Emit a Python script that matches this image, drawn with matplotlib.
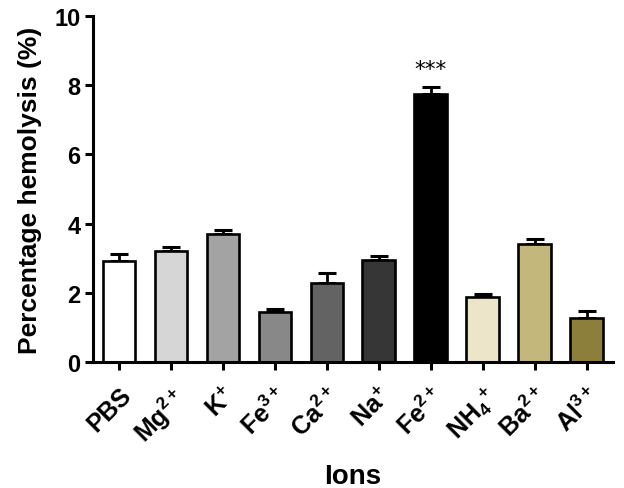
import matplotlib
matplotlib.use("Agg")
import matplotlib.pyplot as plt
import numpy as np

plt.rcParams['font.family'] = ['Liberation Sans', 'DejaVu Sans']
plt.rcParams['mathtext.fontset'] = 'custom'
plt.rcParams['mathtext.rm'] = 'Liberation Sans:bold'
plt.rcParams['mathtext.it'] = 'Liberation Sans:bold'
plt.rcParams['mathtext.bf'] = 'Liberation Sans:bold'
plt.rcParams['mathtext.default'] = 'rm'

ions = ['PBS', r'Mg$^{2+}$', r'K$^{+}$', r'Fe$^{3+}$', r'Ca$^{2+}$', r'Na$^{+}$',
        r'Fe$^{2+}$', r'NH$_{4}$$^{+}$', r'Ba$^{2+}$', r'Al$^{3+}$']
means = [2.93, 3.22, 3.69, 1.43, 2.29, 2.94, 7.74, 1.88, 3.40, 1.28]
errors = [0.20, 0.10, 0.12, 0.10, 0.29, 0.13, 0.21, 0.09, 0.15, 0.19]
colors = ['#ffffff', '#d6d6d6', '#a3a3a3', '#888888', '#636363', '#363636',
          '#000000', '#ece5c9', '#c3b87c', '#8c7e3b']
signif = ['', '', '', '', '', '', '***', '', '', '']

fig = plt.figure(figsize=(6.24, 4.89), dpi=100)
ax = fig.add_axes([0.149, 0.258, 0.833, 0.707])

x = np.arange(len(ions))
ax.bar(x, means, width=0.63, color=colors, edgecolor='black', linewidth=1.9, zorder=2)
ax.errorbar(x, means, yerr=[np.zeros(len(means)), errors], fmt='none', ecolor='black',
            elinewidth=2.0, capsize=6.5, capthick=2.2, zorder=1)

for xi, m, e, s in zip(x, means, errors, signif):
    if s:
        ax.text(xi, m + e + 0.22, s, ha='center', va='bottom', fontsize=15.5,
                family='DejaVu Sans')

ax.set_xlim(-0.5, 9.5)
ax.set_ylim(0, 10)
ax.set_yticks([0, 2, 4, 6, 8, 10])
ax.set_xticks(x)
ax.set_xticklabels(ions, rotation=45, ha='right', rotation_mode='anchor',
                   fontsize=18, fontweight='bold')
for lab in ax.get_yticklabels():
    lab.set_fontsize(17)
    lab.set_fontweight('bold')

for sp in ['top', 'right']:
    ax.spines[sp].set_visible(False)
for sp in ['left', 'bottom']:
    ax.spines[sp].set_linewidth(2.2)
ax.tick_params(axis='both', which='major', length=6, width=2.2, direction='out', pad=3)
ax.tick_params(axis='x', pad=9)

ax.set_ylabel('Percentage hemolysis (%)', fontsize=19, fontweight='bold', labelpad=9)
ax.set_xlabel('Ions', fontsize=20, fontweight='bold', labelpad=11)

fig.savefig('out.png', dpi=100)
